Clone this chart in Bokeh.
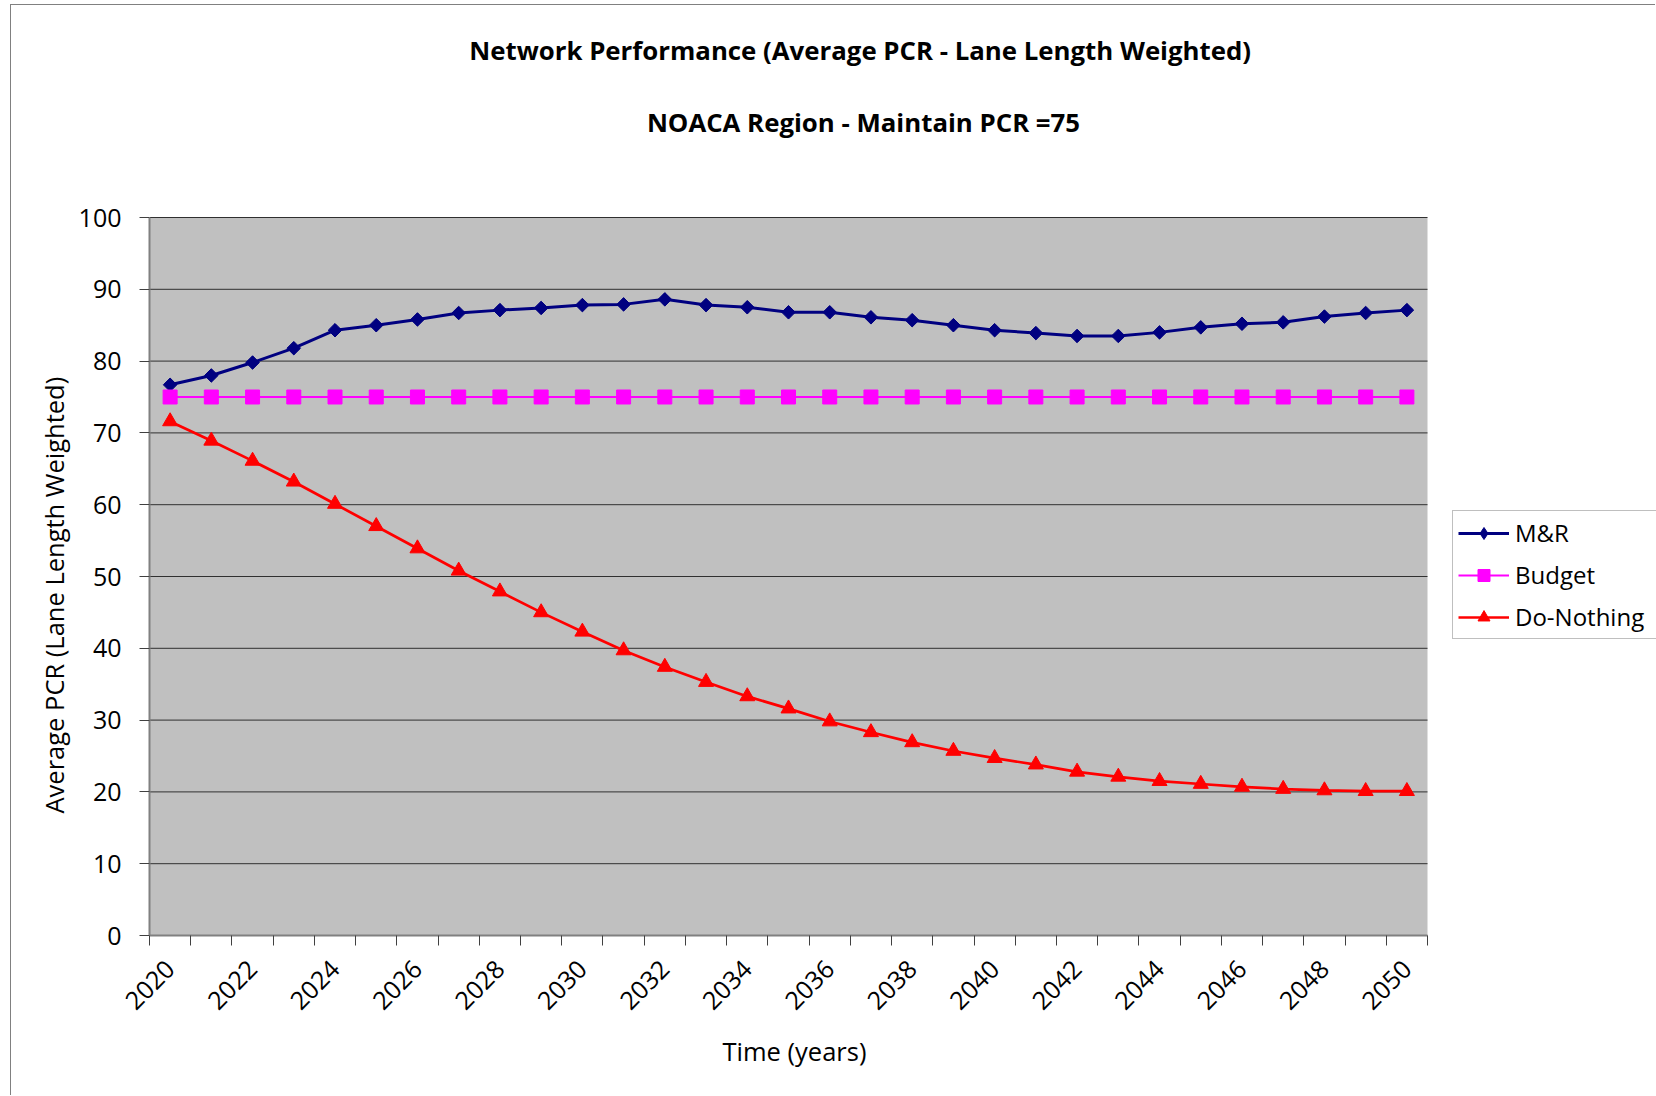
import math
from bokeh.plotting import figure
from bokeh.models import Range1d, FixedTicker, Title, Label, Legend, LegendItem
from bokeh.embed import file_html
from bokeh.resources import INLINE

# ---------------- data ----------------
years = [2020, 2021, 2022, 2023, 2024, 2025, 2026, 2027, 2028, 2029,
         2030, 2031, 2032, 2033, 2034, 2035, 2036, 2037, 2038, 2039,
         2040, 2041, 2042, 2043, 2044, 2045, 2046, 2047, 2048, 2049, 2050]
mr = [76.7, 78.0, 79.8, 81.8, 84.3, 85.0, 85.8, 86.7, 87.1, 87.4,
      87.8, 87.9, 88.6, 87.8, 87.5, 86.8, 86.8, 86.1, 85.7, 85.0,
      84.3, 83.9, 83.5, 83.5, 84.0, 84.7, 85.2, 85.4, 86.2, 86.7, 87.1]
budget = [75, 75, 75, 75, 75, 75, 75, 75, 75, 75,
          75, 75, 75, 75, 75, 75, 75, 75, 75, 75,
          75, 75, 75, 75, 75, 75, 75, 75, 75, 75, 75]
do_nothing = [71.6, 68.9, 66.1, 63.2, 60.1, 57.0, 53.9, 50.8, 47.9, 45.0,
              42.3, 39.7, 37.4, 35.3, 33.3, 31.6, 29.8, 28.3, 26.9, 25.7,
              24.7, 23.8, 22.8, 22.1, 21.5, 21.1, 20.7, 20.4, 20.2, 20.1, 20.1]
x_label_years = [2020, 2022, 2024, 2026, 2028, 2030, 2032, 2034, 2036, 2038,
                 2040, 2042, 2044, 2046, 2048, 2050]
y_ticks = [0, 10, 20, 30, 40, 50, 60, 70, 80, 90, 100]
title1 = "Network Performance (Average PCR -  Lane Length Weighted)"
title2 = "NOACA Region - Maintain PCR =75"
x_title = "Time (years)"
y_title = "Average PCR (Lane Length Weighted)"
series_names = ["M&R", "Budget", "Do-Nothing"]

# ---------------- layout (pixels) ----------------
FONT = "Open Sans"
W, H = 1645, 1091          # canvas (placed 11px right / 5px down in the page)
ML, MB = 138, 161          # left / bottom panels (axes)
PLOT_W, PLOT_H = 1278, 718 # size of the grey plotting area
FRAME_W, FRAME_H = W - ML, H - MB   # frame extends right and up to hold legend & titles

x_lo, x_hi = years[0] - 0.5, years[-1] + 0.5
y_lo, y_hi = y_ticks[0], y_ticks[-1]
x_end = x_lo + (x_hi - x_lo) * FRAME_W / PLOT_W
y_end = y_lo + (y_hi - y_lo) * FRAME_H / PLOT_H

p = figure(width=W, height=H, output_backend="svg", toolbar_location=None,
           x_range=Range1d(x_lo, x_end), y_range=Range1d(y_lo, y_end),
           min_border_left=ML, min_border_right=0,
           min_border_top=0, min_border_bottom=MB,
           margin=(4, 0, 0, 10))
p.styles = {"border-left": "1px solid #808080", "border-top": "1px solid #808080"}
p.background_fill_color = "white"
p.border_fill_color = "white"
p.outline_line_color = None
p.xgrid.grid_line_color = None
p.ygrid.grid_line_color = None

# grey plotting area and horizontal gridlines
p.quad(left=[x_lo], right=[x_hi], bottom=[y_lo], top=[y_hi],
       fill_color="#C0C0C0", line_color=None)
p.segment(x0=[x_lo] * len(y_ticks), x1=[x_hi] * len(y_ticks), y0=y_ticks, y1=y_ticks,
          line_color="#303030", line_width=1)

# x axis: ticks between categories, labels every second year
xa = p.xaxis[0]
xa.bounds = (x_lo, x_hi)
xa.ticker = FixedTicker(ticks=x_label_years,
                        minor_ticks=[y - 0.5 for y in years] + [x_hi])
xa.major_tick_out = 0
xa.major_tick_in = 0
xa.minor_tick_out = 10
xa.minor_tick_in = 0
xa.minor_tick_line_color = "#404040"
xa.axis_line_color = "#808080"
xa.axis_line_width = 2
xa.major_label_orientation = math.pi / 4
xa.major_label_text_font = FONT
xa.major_label_text_font_size = "25px"
xa.major_label_text_color = "black"
xa.major_label_standoff = 19

tx = Title(text=x_title, align="left", offset=573, standoff=23,
           text_font=FONT, text_font_style="normal", text_font_size="25.5px",
           text_color="black")
p.add_layout(tx, "below")

ya = p.yaxis[0]
ya.bounds = (y_lo, y_hi)
ya.ticker = FixedTicker(ticks=y_ticks)
ya.major_tick_out = 10
ya.major_tick_in = 0
ya.minor_tick_out = 0
ya.minor_tick_in = 0
ya.major_tick_line_color = "#404040"
ya.axis_line_color = "#808080"
ya.axis_line_width = 2
ya.major_label_text_font = FONT
ya.major_label_text_font_size = "25px"
ya.major_label_text_color = "black"
ya.major_label_standoff = 18

ty = Title(text=y_title, align="left", offset=122, standoff=9,
           text_font=FONT, text_font_style="normal", text_font_size="25.5px",
           text_color="black")
p.add_layout(ty, "left")

# ---------------- series ----------------
NAVY, MAGENTA, RED = "#000080", "#FF00FF", "#FF0000"
l1 = p.line(years, mr, line_color=NAVY, line_width=3)
m1 = p.scatter(years, mr, marker="diamond", size=12, fill_color=NAVY, line_color=NAVY)
p.scatter(years, mr, marker="square", angle=math.pi / 4, size=9.6,
          fill_color=NAVY, line_color=NAVY)
l2 = p.line(years, budget, line_color=MAGENTA, line_width=2)
m2 = p.scatter(years, budget, marker="square", size=14, fill_color=MAGENTA, line_color=MAGENTA)
l3 = p.line(years, do_nothing, line_color=RED, line_width=2.7)
m3 = p.scatter(years, do_nothing, marker="triangle", size=15, fill_color=RED, line_color=RED)

legend = Legend(items=[LegendItem(label=series_names[0], renderers=[l1, m1]),
                       LegendItem(label=series_names[1], renderers=[l2, m2]),
                       LegendItem(label=series_names[2], renderers=[l3, m3])],
                location=(1303, 296))
legend.border_line_color = "#808080"
legend.border_line_width = 1
legend.background_fill_color = "white"
legend.background_fill_alpha = 1
legend.label_text_font = FONT
legend.label_text_font_size = "24px"
legend.label_text_color = "black"
legend.glyph_width = 51
legend.glyph_height = 30
legend.label_height = 33
legend.label_width = 141
legend.spacing = 9
legend.padding = 5
legend.margin = 0
legend.label_standoff = 6
p.add_layout(legend, "center")

# ---------------- titles (inside the extended frame, screen px from frame bottom-left) ----------------
for txt, ycan in [(title1, 44), (title2, 116)]:
    p.add_layout(Label(x=852 - ML, y=FRAME_H - ycan, x_units="screen", y_units="screen",
                       text=txt, text_align="center", text_baseline="middle",
                       text_font=FONT, text_font_style="bold",
                       text_font_size="25.8px", text_color="black"))

open("out.html", "w").write(file_html(p, INLINE))
